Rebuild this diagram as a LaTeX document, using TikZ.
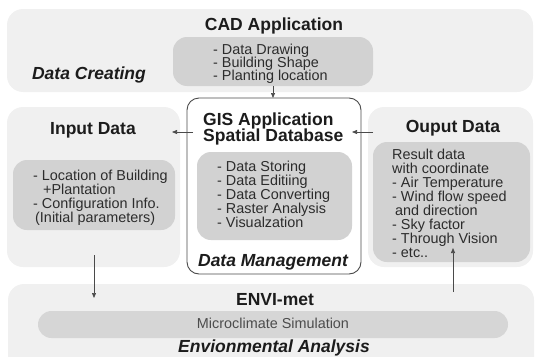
\documentclass[tikz,border=0pt]{standalone}
\usepackage{fontspec}
\setmainfont{Liberation Sans}
\usetikzlibrary{arrows.meta}
\definecolor{panelc}{HTML}{F0F0F0}
\definecolor{innerc}{HTML}{D2D2D2}
\definecolor{barc}{HTML}{D6D6D6}
\definecolor{txtc}{HTML}{1C1C1C}
\definecolor{itmc}{HTML}{2C2C2C}
\definecolor{edgec}{HTML}{4A4A4A}
\newcommand\ttlfont{\fontsize{17.5}{16.5}\selectfont\bfseries}
\newcommand\itmfont{\fontsize{14.4}{14}\selectfont}
\newcommand\rowsbox[1]{\vtop{\lineskiplimit=-50pt\relax\halign{##\hfil\cr#1\crcr}}}
\tikzset{
  panel/.style={fill=panelc, draw=none, rounded corners=16pt, inner sep=0pt, outer sep=0pt},
  innerbox/.style={fill=innerc, draw=none, rounded corners=14pt, inner sep=0pt, outer sep=0pt},
  gisbox/.style={fill=white, draw=edgec, line width=0.9pt, rounded corners=12pt, inner sep=0pt, outer sep=0pt},
  title/.style={font=\ttlfont, text=txtc, inner sep=0pt, anchor=base},
  ititle/.style={font=\ttlfont\itshape, text=txtc, inner sep=0pt, anchor=base},
  items/.style={font=\itmfont, text=itmc, inner sep=0pt, anchor=base west},
  arr/.style={draw=edgec, line width=0.7pt, -{Triangle[length=5pt,width=4pt]}}
}
\begin{document}
\begin{tikzpicture}[x=1pt, y=-1pt]
\useasboundingbox (0,0) rectangle (537,356);
\clip (0,0) rectangle (537,356);
% panels
\node[panel, minimum width=526pt, minimum height=83pt] (toppanel) at (270,50.5) {};
\node[panel, minimum width=173pt, minimum height=160pt] (inpanel) at (93.5,187) {};
\node[panel, minimum width=165pt, minimum height=160pt] (outpanel) at (450.5,187) {};
\node[panel, minimum width=526pt, minimum height=100pt] (envipanel) at (271,334) {};
\node[gisbox, minimum width=174pt, minimum height=176pt] (gis) at (274,186) {};
% inner boxes
\node[innerbox, minimum width=200pt, minimum height=49pt] (cadbox) at (273,61.5) {};
\node[innerbox, minimum width=162pt, minimum height=70pt] (inbox) at (94,195) {};
\node[innerbox, minimum width=155pt, minimum height=88pt] (gisinner) at (274.5,196) {};
\node[innerbox, minimum width=157pt, minimum height=120pt] (outbox) at (451.5,202) {};
\node[fill=barc, draw=none, rounded corners=13.5pt, inner sep=0pt, minimum width=470pt, minimum height=27pt] (envibar) at (273,324.5) {};
% titles
\node[title] (tcad) at (274,30) {CAD Application};
\node[ititle] (tcreate) at (89,79) {Data Creating};
\node[title] (tin) at (93,134) {Input Data};
\node[title, anchor=base west] (tgis) at (203,125) {\rowsbox{GIS Application\cr Spatial Database}};
\node[title] (tout) at (453,132) {Ouput Data};
\node[ititle] (tmanage) at (273,266) {Data Management};
\node[title] (tenvi) at (275,305) {ENVI-met};
\node[font=\itmfont, text=itmc!85!white, inner sep=0pt, anchor=base] (tsim) at (273,328) {Microclimate Simulation};
\node[ititle] (tanalysis) at (274,352) {Envionmental Analysis};
% item lists
\node[items, font=\fontsize{14.4}{13}\selectfont] (icad) at (213,54) {\rowsbox{- Data Drawing\cr - Building Shape\cr - Planting location}};
\node[items, font=\fontsize{14.4}{14.2}\selectfont] (igis) at (217,171) {\rowsbox{- Data Storing\cr - Data Editiing\cr - Data Converting\cr - Raster Analysis\cr - Visualzation}};
\node[items] (iin) at (33,180) {\rowsbox{- Location of Building\cr \hspace*{10pt}+Plantation\cr - Configuration Info.\cr \hspace*{2pt}(Initial parameters)}};
\node[items] (iout) at (392,159) {\rowsbox{Result data\cr with coordinate\cr - Air Temperature\cr - Wind flow speed\cr \hspace*{3pt}and direction\cr - Sky factor\cr - Through Vision\cr - etc..}};
% connector end points
\coordinate (gisL) at (193,132);
\coordinate (inR) at (172,132);
\coordinate (outL) at (373,132);
\coordinate (gisR) at (352,132);
\coordinate (inDown) at (94,255);
\coordinate (enviTop) at (94,298);
\coordinate (enviUp) at (453,292);
\coordinate (outEnd) at (453,248);
% connectors
\draw[arr] (cadbox.south) -- (cadbox.south |- gis.north);
\draw[arr] (gisL) -- (inR);
\draw[arr] (outL) -- (gisR);
\draw[arr] (inDown) -- (enviTop);
\draw[arr] (enviUp) -- (outEnd);
\end{tikzpicture}
\end{document}
